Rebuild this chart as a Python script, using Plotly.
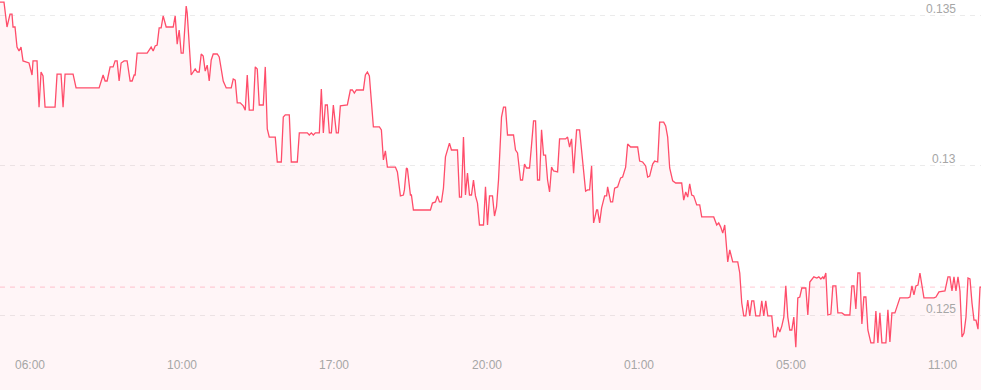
import plotly.graph_objects as go

# sample index (time step) and price
idx = [0, 4, 7, 10, 12, 13, 15, 17, 19, 21, 23, 27, 29, 32, 33, 37, 39, 41, 43, 45,
       55, 57, 61, 63, 65, 73, 76, 99, 103, 105, 107, 110, 113, 115, 117, 119, 121, 124, 127, 130,
       132, 134, 135, 137, 147, 151, 153, 155, 157, 159, 161, 163, 166, 173, 175, 177, 179, 181, 183, 186,
       187, 191, 193, 195, 197, 199, 201, 203, 205, 207, 209, 211, 213, 217, 219, 223, 226, 231, 233, 235,
       237, 240, 243, 245, 247, 249, 253, 255, 257, 259, 263, 265, 267, 269, 275, 277, 281, 283, 285, 289,
       291, 297, 299, 307, 309, 311, 313, 315, 319, 321, 323, 325, 327, 329, 331, 333, 336, 338, 340, 347,
       350, 352, 354, 356, 363, 365, 367, 369, 373, 379, 381, 383, 385, 387, 395, 397, 400, 403, 404, 406,
       407, 410, 411, 413, 430, 432, 435, 437, 439, 441, 443, 445, 449, 451, 457, 459, 461, 463, 465, 467,
       469, 471, 473, 475, 477, 479, 483, 485, 487, 489, 492, 494, 496, 498, 501, 503, 505, 507, 513, 515,
       517, 520, 522, 524, 526, 529, 531, 533, 535, 537, 539, 541, 543, 545, 547, 549, 551, 553, 557, 559,
       565, 567, 569, 571, 573, 576, 579, 581, 583, 585, 587, 589, 591, 593, 596, 597, 599, 601, 604, 606,
       607, 610, 612, 614, 617, 620, 622, 625, 627, 630, 637, 639, 642, 645, 647, 649, 652, 654, 657, 659,
       663, 665, 667, 669, 672, 675, 681, 683, 685, 687, 689, 691, 693, 696, 699, 701, 713, 716, 718, 720,
       722, 724, 727, 729, 732, 737, 739, 741, 743, 745, 747, 749, 751, 753, 755, 759, 761, 763, 765, 767,
       771, 773, 775, 777, 779, 781, 783, 785, 787, 789, 791, 793, 795, 797, 799, 801, 805, 807, 809, 813,
       816, 818, 820, 822, 823, 825, 827, 830, 832, 835, 837, 841, 844, 849, 851, 853, 855, 857, 859, 861,
       863, 865, 867, 870, 873, 875, 877, 879, 881, 885, 887, 889, 891, 894, 896, 899, 907, 909, 911, 913,
       915, 917, 919, 923, 933, 935, 938, 942, 944, 947, 949, 951, 953, 955, 957, 959, 961, 963, 965, 967,
       969, 971, 973, 975, 977, 979, 980]

price_e5 = [13543, 13543, 13460, 13503, 13503, 13460, 13460, 13393, 13380, 13393, 13347, 13343, 13340, 13300, 13347, 13347, 13193, 13310, 13297, 13193,
            13193, 13303, 13303, 13193, 13303, 13303, 13257, 13257, 13300, 13280, 13280, 13327, 13327, 13347, 13347, 13280, 13340, 13347, 13347, 13280,
            13280, 13300, 13300, 13373, 13373, 13393, 13380, 13397, 13400, 13457, 13457, 13497, 13460, 13460, 13497, 13403, 13450, 13373, 13373, 13530,
            13507, 13300, 13310, 13320, 13310, 13310, 13370, 13363, 13313, 13333, 13280, 13350, 13370, 13370, 13360, 13280, 13257, 13257, 13287, 13283,
            13207, 13207, 13197, 13183, 13300, 13183, 13183, 13327, 13320, 13200, 13200, 13327, 13120, 13093, 13093, 13010, 13010, 13160, 13167, 13167,
            13010, 13010, 13107, 13107, 13100, 13107, 13100, 13107, 13107, 13253, 13107, 13200, 13200, 13107, 13107, 13200, 13107, 13107, 13197, 13200,
            13250, 13250, 13240, 13250, 13250, 13300, 13310, 13297, 13127, 13127, 13117, 13017, 13047, 12993, 12993, 12977, 12897, 12900, 12917, 12990,
            12987, 12900, 12900, 12850, 12850, 12873, 12877, 12897, 12877, 12877, 12923, 13027, 13073, 13050, 13050, 12893, 12893, 13093, 12900, 12973,
            12900, 12900, 12950, 12897, 12873, 12800, 12800, 12927, 12800, 12897, 12897, 12830, 12860, 12950, 13160, 13193, 13193, 13100, 13100, 13050,
            13040, 12950, 12950, 13003, 12990, 12990, 13067, 13147, 13147, 12950, 12950, 13117, 13033, 13033, 12950, 12910, 12993, 12980, 12977, 13087,
            13087, 13093, 13060, 13087, 12973, 13117, 13117, 13040, 12977, 12913, 12917, 12917, 12997, 12807, 12850, 12850, 12807, 12857, 12897, 12897,
            12927, 12877, 12877, 12923, 12927, 12957, 12960, 12993, 13070, 13060, 13060, 13013, 13010, 12997, 12960, 12963, 13003, 13013, 13010, 13143,
            13143, 13130, 13093, 12990, 12947, 12940, 12940, 12883, 12910, 12893, 12937, 12900, 12897, 12867, 12867, 12827, 12827, 12800, 12807, 12793,
            12773, 12800, 12677, 12717, 12677, 12677, 12640, 12540, 12497, 12497, 12550, 12497, 12547, 12547, 12497, 12497, 12547, 12497, 12547, 12497,
            12497, 12427, 12427, 12460, 12443, 12463, 12493, 12597, 12493, 12450, 12450, 12493, 12393, 12557, 12560, 12590, 12590, 12500, 12610, 12627,
            12623, 12627, 12620, 12627, 12620, 12640, 12500, 12503, 12597, 12597, 12507, 12507, 12500, 12500, 12597, 12597, 12520, 12640, 12640, 12470,
            12560, 12560, 12450, 12407, 12407, 12513, 12407, 12507, 12407, 12407, 12517, 12410, 12507, 12507, 12527, 12557, 12557, 12560, 12597, 12567,
            12597, 12600, 12640, 12557, 12557, 12560, 12577, 12580, 12580, 12627, 12627, 12580, 12627, 12580, 12627, 12580, 12427, 12440, 12493, 12623,
            12620, 12540, 12483, 12483, 12453, 12593, 12593]

price = [p / 100000 for p in price_e5]

tick_idx = [30, 182, 334, 486, 638, 790, 942]
tick_text = ["06:00", "10:00", "17:00", "20:00", "01:00", "05:00", "11:00"]
y_ticks = [0.125, 0.13, 0.135]
y_tick_text = ["0.125", "0.13", "0.135"]

line_color = "#ff4d6a"
fill_color = "rgba(255,77,106,0.055)"
grid_color = "#ebebeb"
label_color = "#a6a6a6"
label_font = dict(family="Liberation Sans, Arial, sans-serif", size=12, color=label_color)

fig = go.Figure()
fig.add_trace(go.Scatter(
    x=idx, y=price, mode="lines",
    line=dict(color=line_color, width=1.3),
    fill="tozeroy", fillcolor=fill_color,
    hoverinfo="skip",
))

fig.add_hline(y=price[-1], line=dict(color="rgba(255,77,106,0.3)", width=1, dash="5px,5px"),
              layer="below")

# y tick labels: inside, right-aligned, just above each gridline
for v, t in zip(y_ticks, y_tick_text):
    fig.add_annotation(x=957, y=v, xref="x", yref="y", text=t, showarrow=False,
                       xanchor="right", yanchor="bottom", yshift=-3, font=label_font)

# x tick labels: inside the plot near the bottom
for v, t in zip(tick_idx, tick_text):
    fig.add_annotation(x=v, y=0.064, xref="x", yref="paper", text=t, showarrow=False,
                       xanchor="center", yanchor="middle", font=label_font)

fig.update_layout(
    width=981, height=390,
    margin=dict(l=0, r=0, t=0, b=0),
    paper_bgcolor="white", plot_bgcolor="white",
    showlegend=False,
    font=label_font,
    xaxis=dict(
        range=[0, 980], showgrid=False, zeroline=False, showline=False,
        showticklabels=False, ticks="",
    ),
    yaxis=dict(
        range=[0.1225, 0.1355], side="right",
        showgrid=True, gridcolor=grid_color, griddash="5px,5px", gridwidth=1,
        zeroline=False, showline=False,
        tickmode="array", tickvals=y_ticks,
        showticklabels=False, ticks="",
    ),
)

fig.write_html("out.html")
